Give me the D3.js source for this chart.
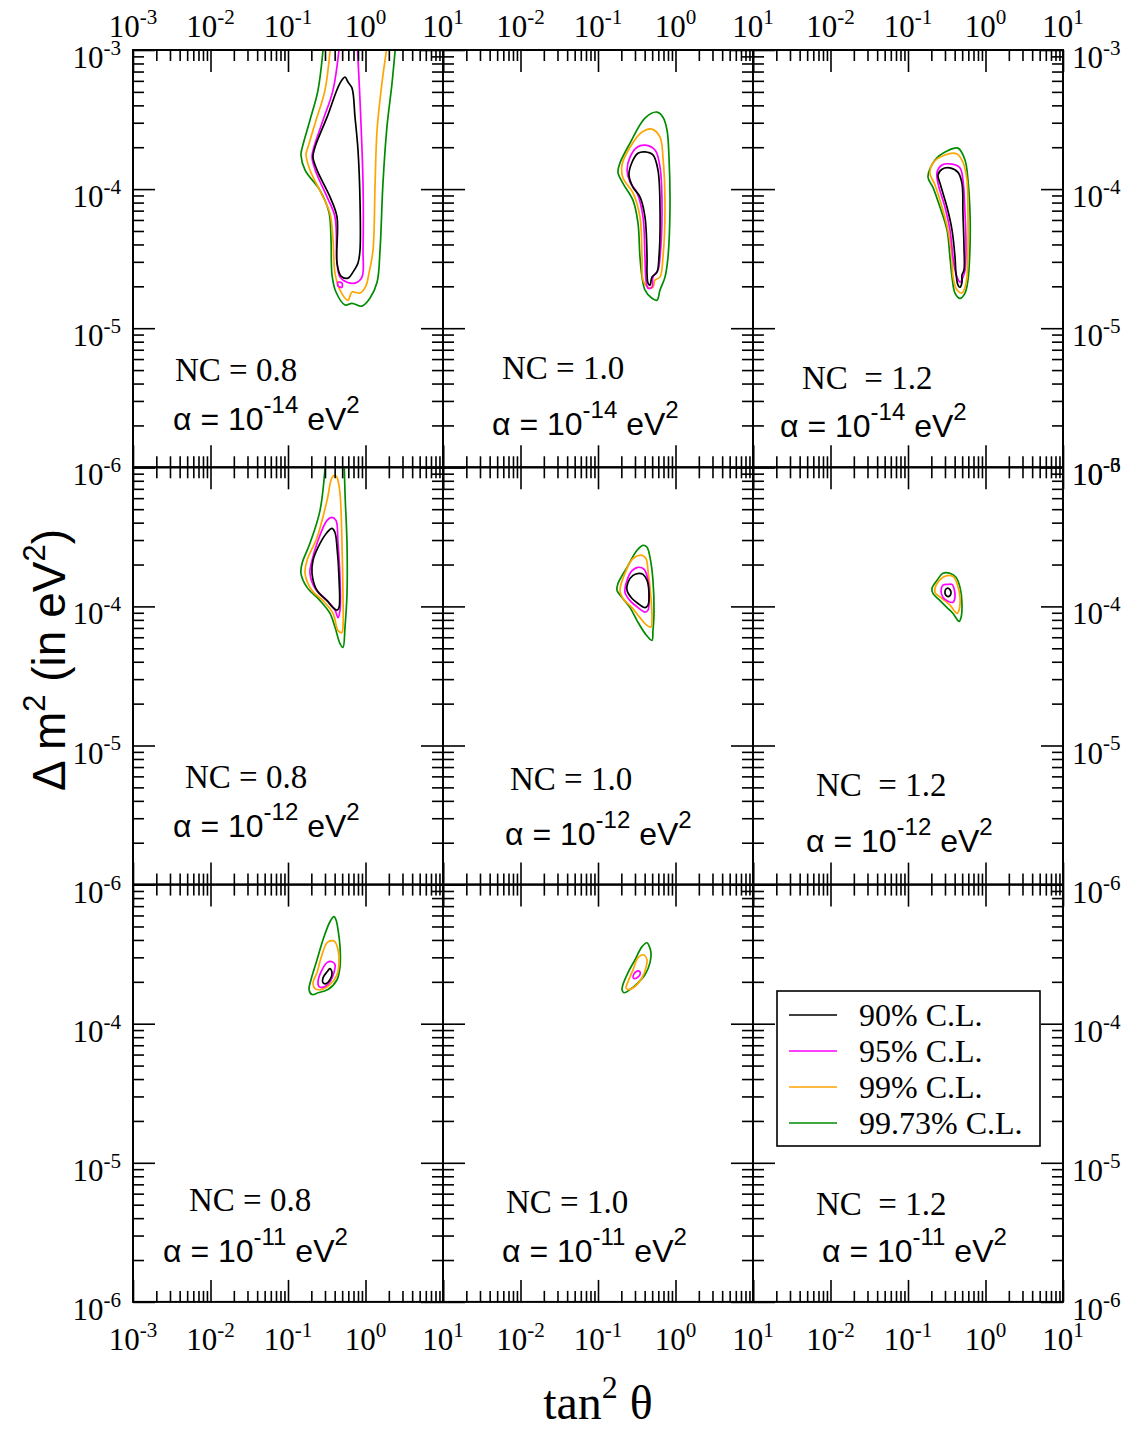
<!DOCTYPE html>
<html>
<head>
<meta charset="utf-8">
<script src="https://cdn.jsdelivr.net/npm/d3@7"></script>
<style>
  body { margin: 0; background: #fff; }
  svg { display: block; }
  text { white-space: pre; }
</style>
</head>
<body>
<svg id="chart" width="1131" height="1433"></svg>
<script>
// ---- data ----
const xMajor = [1e-3, 1e-2, 1e-1, 1, 10];
const yMajor = [1e-6, 1e-5, 1e-4, 1e-3];
const xExps = ["-3", "-2", "-1", "0", "1"];
const yExps = ["-6", "-5", "-4", "-3"];
const ncLabels = ["NC = 0.8", "NC = 1.0", "NC  = 1.2"];
const alphaExps = ["-14", "-12", "-11"];
const clLabels = ["90% C.L.", "95% C.L.", "99% C.L.", "99.73% C.L."];
const clColors = ["#000000", "#ff00ff", "#ffa500", "#008b00"];

// contours, [tan^2 theta, delta m^2]
// alpha = 1e-14, NC = 0.8
const p11_g = [[0.291,1.18e-3],[0.244,5.15e-4],[0.192,3.13e-4],[0.152,1.97e-4],[0.147,1.76e-4],[0.166,1.37e-4],[0.259,9.8e-5],[0.338,6.8e-5],[0.359,4.3e-5],[0.370,2.41e-5],[0.416,1.82e-5],[0.544,1.47e-5],[0.670,1.51e-5],[0.90,1.44e-5],[1.14,1.64e-5],[1.41,2.14e-5],[1.54,3.64e-5],[1.68,1.10e-4],[1.89,2.79e-4],[2.20,5.78e-4],[2.48,1.18e-3]];
const p11_o = [[0.359,1.18e-3],[0.30,5.15e-4],[0.230,3.13e-4],[0.181,2.0e-4],[0.171,1.79e-4],[0.192,1.37e-4],[0.267,9.4e-5],[0.348,6.7e-5],[0.381,4.3e-5],[0.404,2.49e-5],[0.469,1.88e-5],[0.594,1.59e-5],[0.670,1.82e-5],[0.849,1.79e-5],[1.01,2.01e-5],[1.11,2.49e-5],[1.25,3.64e-5],[1.33,1.10e-4],[1.41,2.66e-4],[1.63,5.78e-4],[1.95,1.18e-3]];
const p11_m = [[0.469,1.18e-3],[0.381,5.15e-4],[0.283,3.13e-4],[0.216,2.0e-4],[0.204,1.70e-4],[0.230,1.32e-4],[0.319,8.8e-5],[0.404,6.3e-5],[0.429,2.94e-5],[0.469,2.33e-5],[0.577,2.14e-5],[0.732,2.11e-5],[0.90,2.33e-5],[0.929,3.64e-5],[0.929,1.10e-4],[0.849,4.36e-4],[0.777,1.18e-3]];
const p11_mi = [[0.442,2.14e-5],[0.497,2.11e-5],[0.497,1.97e-5],[0.442,2.01e-5]];
const p11_k = [[0.544,6.38e-4],[0.594,5.88e-4],[0.670,5.32e-4],[0.732,3.29e-4],[0.80,1.91e-4],[0.849,8.3e-5],[0.849,3.64e-5],[0.80,2.94e-5],[0.689,2.53e-5],[0.594,2.29e-5],[0.483,2.37e-5],[0.429,2.94e-5],[0.429,6.3e-5],[0.348,8.8e-5],[0.237,1.37e-4],[0.210,1.70e-4],[0.223,2.0e-4],[0.319,3.29e-4],[0.469,5.78e-4]];
// alpha = 1e-14, NC = 1.0
const p12_g = [[0.577,3.58e-4],[0.404,3.24e-4],[0.259,2.14e-4],[0.192,1.54e-4],[0.181,1.32e-4],[0.210,1.10e-4],[0.283,8.3e-5],[0.328,5.7e-5],[0.348,3.24e-5],[0.370,2.33e-5],[0.404,1.88e-5],[0.497,1.64e-5],[0.577,1.59e-5],[0.631,1.88e-5],[0.732,2.33e-5],[0.80,3.24e-5],[0.849,7.4e-5],[0.824,1.70e-4],[0.777,2.66e-4],[0.689,3.29e-4]];
const p12_o = [[0.497,2.70e-4],[0.370,2.57e-4],[0.259,2.0e-4],[0.204,1.49e-4],[0.210,1.20e-4],[0.283,9.4e-5],[0.348,6.3e-5],[0.370,3.24e-5],[0.381,2.22e-5],[0.442,1.97e-5],[0.512,1.97e-5],[0.544,2.22e-5],[0.631,2.33e-5],[0.689,3.24e-5],[0.732,7.4e-5],[0.689,1.70e-4],[0.631,2.36e-4]];
const p12_m = [[0.404,2.07e-4],[0.319,2.0e-4],[0.259,1.70e-4],[0.237,1.37e-4],[0.259,1.12e-4],[0.319,9.4e-5],[0.381,6.3e-5],[0.404,3.24e-5],[0.416,2.22e-5],[0.442,1.94e-5],[0.497,1.97e-5],[0.512,2.33e-5],[0.594,2.62e-5],[0.631,3.24e-5],[0.670,7.4e-5],[0.631,1.44e-4],[0.544,1.91e-4]];
const p12_k = [[0.404,1.85e-4],[0.328,1.81e-4],[0.275,1.56e-4],[0.251,1.26e-4],[0.283,1.03e-4],[0.348,8.8e-5],[0.404,6.3e-5],[0.429,3.24e-5],[0.429,2.49e-5],[0.442,2.11e-5],[0.469,2.04e-5],[0.497,2.33e-5],[0.577,2.53e-5],[0.612,3.24e-5],[0.631,7.4e-5],[0.594,1.37e-4],[0.512,1.76e-4]];
// alpha = 1e-14, NC = 1.2
const p13_g = [[0.442,1.97e-4],[0.319,1.88e-4],[0.223,1.62e-4],[0.181,1.22e-4],[0.210,1.03e-4],[0.259,7.4e-5],[0.319,5.07e-5],[0.348,3.24e-5],[0.370,2.33e-5],[0.404,1.79e-5],[0.469,1.64e-5],[0.544,1.79e-5],[0.594,2.22e-5],[0.631,3.83e-5],[0.631,6.7e-5],[0.594,1.16e-4],[0.544,1.62e-4]];
const p13_o = [[0.429,1.79e-4],[0.30,1.76e-4],[0.210,1.54e-4],[0.192,1.30e-4],[0.223,1.07e-4],[0.275,7.4e-5],[0.328,5.07e-5],[0.370,3.24e-5],[0.381,2.33e-5],[0.429,1.88e-5],[0.497,1.79e-5],[0.544,1.97e-5],[0.577,2.33e-5],[0.594,3.83e-5],[0.594,6.7e-5],[0.577,1.16e-4],[0.512,1.56e-4]];
const p13_m = [[0.370,1.51e-4],[0.275,1.49e-4],[0.237,1.32e-4],[0.244,1.10e-4],[0.30,7.4e-5],[0.348,5.07e-5],[0.381,3.24e-5],[0.404,2.62e-5],[0.429,2.33e-5],[0.469,2.14e-5],[0.512,2.33e-5],[0.544,2.62e-5],[0.56,3.83e-5],[0.544,6.7e-5],[0.512,1.16e-4],[0.469,1.42e-4]];
const p13_k = [[0.348,1.42e-4],[0.275,1.39e-4],[0.244,1.26e-4],[0.259,1.10e-4],[0.319,7.4e-5],[0.370,5.07e-5],[0.404,3.24e-5],[0.416,2.49e-5],[0.442,2.04e-5],[0.469,1.97e-5],[0.497,2.14e-5],[0.497,2.41e-5],[0.528,2.62e-5],[0.528,3.83e-5],[0.512,6.7e-5],[0.497,1.10e-4],[0.442,1.32e-4]];
// alpha = 1e-12, NC = 0.8
const p21_g = [[0.309,1.22e-3],[0.259,4.9e-4],[0.192,2.84e-4],[0.152,2.04e-4],[0.147,1.73e-4],[0.176,1.37e-4],[0.259,1.10e-4],[0.348,8.9e-5],[0.404,7.1e-5],[0.469,5.4e-5],[0.512,5.07e-5],[0.544,7.1e-5],[0.577,1.24e-4],[0.577,2.84e-4],[0.544,6.49e-4],[0.528,1.22e-3]];
const p21_o = [[0.404,8.75e-4],[0.370,8.46e-4],[0.319,5.78e-4],[0.237,3.13e-4],[0.176,2.14e-4],[0.166,1.73e-4],[0.204,1.30e-4],[0.283,1.10e-4],[0.381,8.9e-5],[0.442,6.7e-5],[0.497,6.5e-5],[0.512,7.1e-5],[0.512,1.24e-4],[0.497,2.84e-4],[0.469,6.49e-4],[0.429,8.46e-4]];
const p21_m = [[0.370,4.36e-4],[0.319,4.15e-4],[0.244,2.98e-4],[0.204,2.14e-4],[0.192,1.73e-4],[0.223,1.35e-4],[0.319,1.10e-4],[0.404,9.4e-5],[0.442,8.3e-5],[0.469,9.4e-5],[0.469,1.62e-4],[0.442,2.84e-4],[0.416,4.15e-4]];
const p21_k = [[0.370,3.64e-4],[0.319,3.40e-4],[0.244,2.66e-4],[0.210,2.14e-4],[0.204,1.73e-4],[0.237,1.30e-4],[0.319,1.10e-4],[0.381,9.8e-5],[0.429,9.4e-5],[0.455,9.8e-5],[0.455,1.62e-4],[0.429,2.66e-4],[0.404,3.40e-4]];
// alpha = 1e-12, NC = 1.0
const p22_g = [[0.381,2.75e-4],[0.319,2.53e-4],[0.237,1.91e-4],[0.181,1.46e-4],[0.176,1.30e-4],[0.204,1.16e-4],[0.259,9.8e-5],[0.319,7.9e-5],[0.404,6.4e-5],[0.497,5.7e-5],[0.512,6.7e-5],[0.528,8.9e-5],[0.512,1.54e-4],[0.469,2.25e-4],[0.429,2.66e-4]];
const p22_o = [[0.370,2.33e-4],[0.283,2.21e-4],[0.223,1.73e-4],[0.192,1.30e-4],[0.210,1.14e-4],[0.275,9.8e-5],[0.348,8.3e-5],[0.429,7.3e-5],[0.483,7.1e-5],[0.497,8.3e-5],[0.483,1.14e-4],[0.442,1.81e-4],[0.416,2.21e-4]];
const p22_m = [[0.328,1.91e-4],[0.275,1.81e-4],[0.237,1.54e-4],[0.223,1.26e-4],[0.259,1.10e-4],[0.328,9.8e-5],[0.404,9.1e-5],[0.442,9.4e-5],[0.455,1.14e-4],[0.442,1.54e-4],[0.392,1.85e-4]];
const p22_k = [[0.338,1.73e-4],[0.283,1.67e-4],[0.244,1.49e-4],[0.237,1.30e-4],[0.275,1.14e-4],[0.328,1.05e-4],[0.404,9.8e-5],[0.442,1.02e-4],[0.455,1.24e-4],[0.429,1.54e-4],[0.381,1.70e-4]];
// alpha = 1e-12, NC = 1.2
const p23_g = [[0.348,1.73e-4],[0.283,1.73e-4],[0.237,1.54e-4],[0.204,1.35e-4],[0.210,1.24e-4],[0.259,1.10e-4],[0.319,9.8e-5],[0.381,8.9e-5],[0.455,7.8e-5],[0.483,8.3e-5],[0.497,1.05e-4],[0.469,1.37e-4],[0.416,1.62e-4]];
const p23_o = [[0.348,1.67e-4],[0.283,1.62e-4],[0.230,1.42e-4],[0.223,1.26e-4],[0.275,1.14e-4],[0.348,1.02e-4],[0.429,8.9e-5],[0.455,9.4e-5],[0.469,1.16e-4],[0.429,1.46e-4],[0.392,1.62e-4]];
const p23_m = [[0.328,1.44e-4],[0.283,1.42e-4],[0.267,1.30e-4],[0.283,1.16e-4],[0.328,1.09e-4],[0.381,1.07e-4],[0.404,1.16e-4],[0.392,1.35e-4],[0.370,1.44e-4]];
const p23_k = [[0.319,1.35e-4],[0.30,1.28e-4],[0.309,1.20e-4],[0.338,1.18e-4],[0.359,1.24e-4],[0.348,1.32e-4]];
// alpha = 1e-11, NC = 0.8
const p31_g = [[0.392,5.88e-4],[0.348,5.41e-4],[0.283,4.02e-4],[0.237,2.88e-4],[0.198,2.07e-4],[0.187,1.76e-4],[0.204,1.62e-4],[0.244,1.67e-4],[0.328,1.76e-4],[0.429,2.07e-4],[0.469,2.57e-4],[0.469,3.58e-4],[0.442,4.74e-4],[0.416,5.59e-4]];
const p31_o = [[0.370,3.95e-4],[0.319,3.82e-4],[0.267,2.98e-4],[0.237,2.33e-4],[0.210,1.97e-4],[0.223,1.79e-4],[0.267,1.76e-4],[0.348,1.91e-4],[0.429,2.25e-4],[0.455,2.75e-4],[0.442,3.40e-4],[0.404,3.88e-4]];
const p31_m = [[0.370,2.79e-4],[0.319,2.75e-4],[0.267,2.36e-4],[0.244,2.0e-4],[0.251,1.85e-4],[0.30,1.85e-4],[0.348,2.0e-4],[0.392,2.33e-4],[0.404,2.66e-4]];
const p31_k = [[0.348,2.49e-4],[0.319,2.36e-4],[0.283,2.14e-4],[0.283,1.97e-4],[0.309,1.94e-4],[0.348,2.07e-4],[0.370,2.33e-4]];
// alpha = 1e-11, NC = 1.0
const p32_g = [[0.429,3.82e-4],[0.370,3.58e-4],[0.30,2.88e-4],[0.244,2.33e-4],[0.210,1.91e-4],[0.204,1.76e-4],[0.216,1.67e-4],[0.259,1.76e-4],[0.328,1.97e-4],[0.404,2.25e-4],[0.469,2.75e-4],[0.483,3.24e-4],[0.455,3.64e-4]];
const p32_o = [[0.381,3.13e-4],[0.328,2.98e-4],[0.283,2.44e-4],[0.244,2.0e-4],[0.230,1.81e-4],[0.244,1.76e-4],[0.30,1.85e-4],[0.370,2.14e-4],[0.416,2.53e-4],[0.429,2.88e-4],[0.404,3.08e-4]];
const p32_m = [[0.328,2.40e-4],[0.30,2.33e-4],[0.283,2.18e-4],[0.291,2.11e-4],[0.319,2.14e-4],[0.348,2.25e-4],[0.348,2.36e-4]];

// [level index, points, open curve]
const panels = [
  { row: 0, col: 0, curves: [[3, p11_g, true], [2, p11_o, true], [1, p11_m, true], [1, p11_mi, false], [0, p11_k, false]] },
  { row: 0, col: 1, curves: [[3, p12_g], [2, p12_o], [1, p12_m], [0, p12_k]] },
  { row: 0, col: 2, curves: [[3, p13_g], [2, p13_o], [1, p13_m], [0, p13_k]] },
  { row: 1, col: 0, curves: [[3, p21_g, true], [2, p21_o], [1, p21_m], [0, p21_k]] },
  { row: 1, col: 1, curves: [[3, p22_g], [2, p22_o], [1, p22_m], [0, p22_k]] },
  { row: 1, col: 2, curves: [[3, p23_g], [2, p23_o], [1, p23_m], [0, p23_k]] },
  { row: 2, col: 0, curves: [[3, p31_g], [2, p31_o], [1, p31_m], [0, p31_k]] },
  { row: 2, col: 1, curves: [[3, p32_g], [2, p32_o], [1, p32_m]] },
  { row: 2, col: 2, curves: [] }
];

// ---- layout ----
const gridLeft = 133, gridTop = 50, pw = 310, ph = 417.3;
const majorLen = 22, minorLen = 11;
const serif = "'Liberation Serif', 'Times New Roman', serif";
const sans = "'Liberation Sans', Arial, sans-serif";

// label spots per panel (absolute px): NC text and alpha text
const ncPos = [[175, 381], [502, 379], [802, 389], [185, 788], [510, 790], [816, 796], [189, 1211], [506, 1213], [816, 1215]];
const alphaPos = [[173, 430], [492, 435], [780, 437], [173, 837], [505, 845], [806, 852], [163, 1262], [502, 1262], [822, 1262]];

const svg = d3.select("#chart");
svg.append("rect").attr("width", 1131).attr("height", 1433).attr("fill", "#fff");

function powLabel(g, x, y, exp, anchor, size) {
  const t = g.append("text")
    .attr("x", x).attr("y", y)
    .attr("text-anchor", anchor)
    .style("font-family", serif)
    .style("font-size", size + "px")
    .attr("fill", "#000");
  t.append("tspan").text("10");
  t.append("tspan").attr("dy", -size * 0.42).style("font-size", (size * 0.68) + "px").text(exp);
}

panels.forEach((p, i) => {
  const x0 = gridLeft + p.col * pw, y0 = gridTop + p.row * ph;
  const x = d3.scaleLog().domain([1e-3, 10]).range([x0, x0 + pw]);
  const y = d3.scaleLog().domain([1e-6, 1e-3]).range([y0 + ph, y0]);
  const g = svg.append("g");

  const clipId = "clip" + i;
  svg.append("clipPath").attr("id", clipId)
    .append("rect").attr("x", x0).attr("y", y0).attr("width", pw).attr("height", ph);

  // contours
  const cg = g.append("g").attr("clip-path", `url(#${clipId})`);
  p.curves.forEach(([lvl, pts, open]) => {
    const line = d3.line()
      .x(d => x(d[0]))
      .y(d => y(d[1]))
      .curve(open ? d3.curveCatmullRom : d3.curveCatmullRomClosed);
    cg.append("path")
      .attr("d", line(pts))
      .attr("fill", "none")
      .attr("stroke", clColors[lvl])
      .attr("stroke-width", 1.7);
  });

  // ticks, all inward
  const xMinor = x.ticks().filter(v => !xMajor.some(m => Math.abs(v - m) / m < 1e-9));
  const yMinor = y.ticks().filter(v => !yMajor.some(m => Math.abs(v - m) / m < 1e-9));
  const axes = [
    [d3.axisBottom, x, xMajor, xMinor, `translate(0,${y0 + ph})`],
    [d3.axisTop, x, xMajor, xMinor, `translate(0,${y0})`],
    [d3.axisLeft, y, yMajor, yMinor, `translate(${x0},0)`],
    [d3.axisRight, y, yMajor, yMinor, `translate(${x0 + pw},0)`]
  ];
  axes.forEach(([fn, sc, maj, min, tr]) => {
    [[maj, majorLen], [min, minorLen]].forEach(([vals, len]) => {
      g.append("g").attr("transform", tr)
        .call(fn(sc).tickValues(vals).tickSize(-len).tickSizeOuter(0).tickFormat(""))
        .call(a => a.select(".domain").remove())
        .selectAll("line").attr("stroke", "#000").attr("stroke-width", 1.6);
    });
  });

  // frame
  g.append("rect")
    .attr("x", x0).attr("y", y0).attr("width", pw).attr("height", ph)
    .attr("fill", "none").attr("stroke", "#000").attr("stroke-width", 2);

  // tick labels
  xMajor.forEach((v, k) => {
    if (p.col > 0 && k === 0) return;
    if (p.row === 0) powLabel(svg, x(v), y0 - 13, xExps[k], "middle", 31);
    if (p.row === 2) powLabel(svg, x(v), y0 + ph + 48, xExps[k], "middle", 31);
  });
  yMajor.forEach((v, k) => {
    if (p.col === 0 && !(p.row > 0 && k === 3)) powLabel(svg, x0 - 12, y(v) + 18, yExps[k], "end", 31);
    if (p.col === 2 && !(p.row === 2 && k === 3)) powLabel(svg, x0 + pw + 9, y(v) + 18, yExps[k], "start", 31);
  });

  // panel annotations
  svg.append("text")
    .attr("x", ncPos[i][0]).attr("y", ncPos[i][1])
    .style("font-family", serif).style("font-size", "33px")
    .text(ncLabels[p.col]);
  const at = svg.append("text")
    .attr("x", alphaPos[i][0]).attr("y", alphaPos[i][1])
    .style("font-family", sans).style("font-size", "32px");
  at.append("tspan").text("α = 10");
  at.append("tspan").attr("dy", -17).style("font-size", "24px").text(alphaExps[p.row]);
  at.append("tspan").attr("dy", 17).text(" eV");
  at.append("tspan").attr("dy", -17).style("font-size", "24px").text("2");
});

// legend
const lg = svg.append("g");
lg.append("rect")
  .attr("x", 777).attr("y", 991).attr("width", 263).attr("height", 155)
  .attr("fill", "#fff").attr("stroke", "#000").attr("stroke-width", 1.6);
clLabels.forEach((lab, k) => {
  const ly = 1015 + k * 36;
  lg.append("line").attr("x1", 789).attr("x2", 837).attr("y1", ly).attr("y2", ly)
    .attr("stroke", clColors[k]).attr("stroke-width", 1.6);
  lg.append("text").attr("x", 859).attr("y", ly + 11)
    .style("font-family", serif).style("font-size", "32px").text(lab);
});

// axis titles
const xt = svg.append("text")
  .attr("x", 598).attr("y", 1419).attr("text-anchor", "middle")
  .style("font-family", serif).style("font-size", "48px");
xt.append("tspan").text("tan");
xt.append("tspan").attr("dy", -21).style("font-size", "32px").text("2");
xt.append("tspan").attr("dy", 21).text(" θ");

const yt = svg.append("text")
  .attr("transform", "translate(65,660) rotate(-90)")
  .attr("text-anchor", "middle")
  .style("font-family", sans).style("font-size", "46px");
yt.append("tspan").text("Δ m");
yt.append("tspan").attr("dy", -20).style("font-size", "31px").text("2");
yt.append("tspan").attr("dy", 20).text(" (in eV");
yt.append("tspan").attr("dy", -20).style("font-size", "31px").text("2");
yt.append("tspan").attr("dy", 20).text(")");
</script>
</body>
</html>
